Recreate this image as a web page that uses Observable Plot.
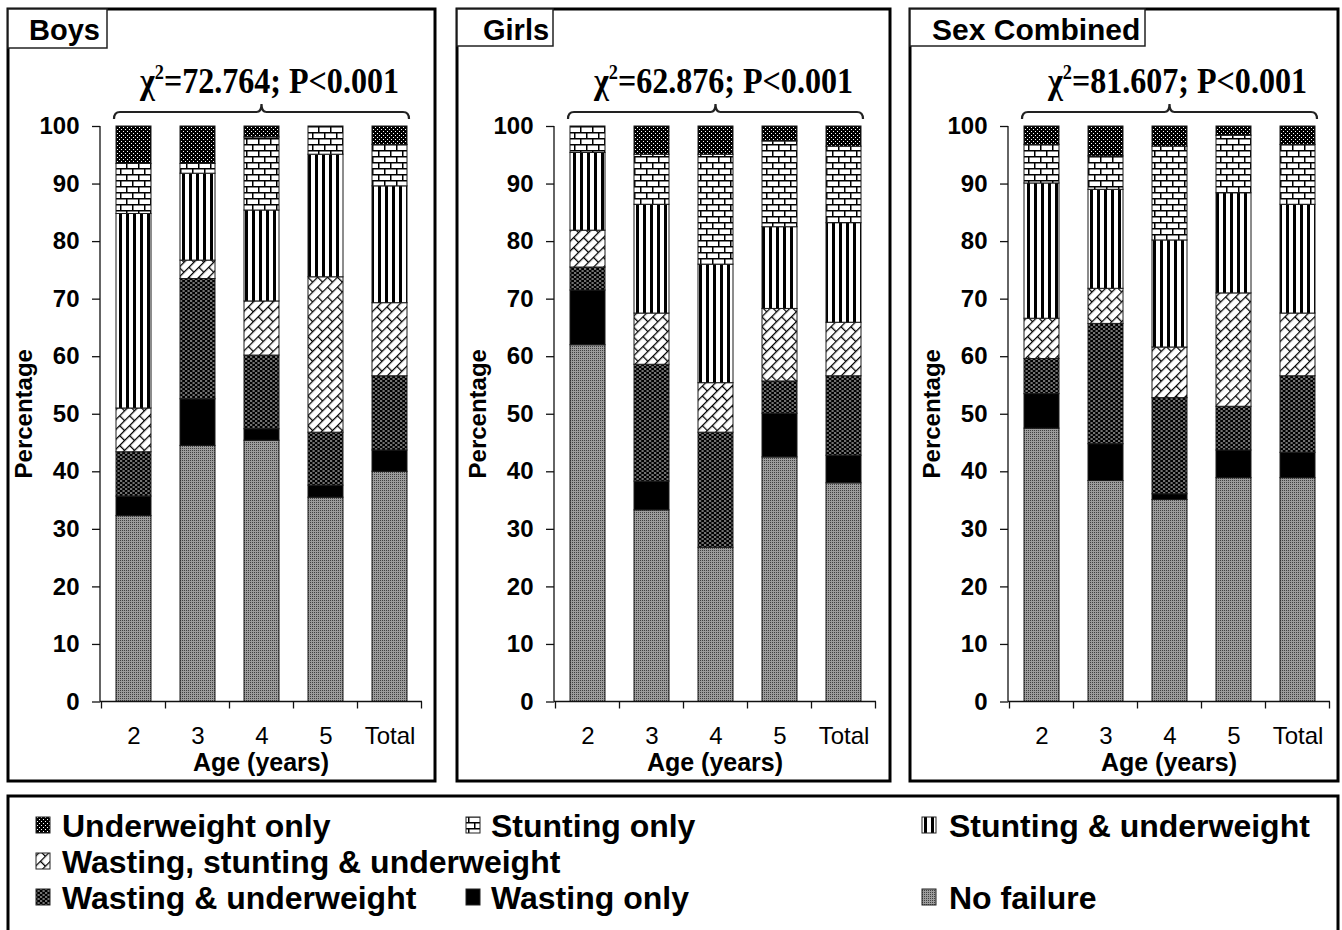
<!DOCTYPE html>
<html>
<head>
<meta charset="utf-8">
<script src="https://cdn.jsdelivr.net/npm/d3@7"></script>
<script src="https://cdn.jsdelivr.net/npm/@observablehq/plot@0.6"></script>
<style>
  html, body { margin: 0; padding: 0; background: #fff; }
  body { width: 1342px; height: 930px; overflow: hidden; position: relative; font-family: "Liberation Sans", Arial, sans-serif; }
  #stage { position: absolute; left: 0; top: 0; width: 1342px; height: 930px; }
  #stage > svg { position: absolute; top: 0; }
</style>
</head>
<body>
<svg width="0" height="0" style="position:absolute">
  <defs>
    <pattern id="pNF" patternUnits="userSpaceOnUse" width="2" height="2">
      <rect width="2" height="2" fill="#9c9c9c"/>
      <rect width="1" height="1" fill="#404040"/>
    </pattern>
    <pattern id="pW" patternUnits="userSpaceOnUse" width="4" height="4">
      <rect width="4" height="4" fill="#000"/>
    </pattern>
    <pattern id="pWU" patternUnits="userSpaceOnUse" width="5" height="4">
      <rect width="5" height="4" fill="#000"/>
      <rect x="0" y="0.5" width="2.2" height="1" fill="#e2e2e2"/>
      <rect x="2.5" y="2.5" width="2.2" height="1" fill="#e2e2e2"/>
    </pattern>
    <pattern id="pWSU" patternUnits="userSpaceOnUse" width="14" height="14" patternTransform="rotate(-45)">
      <rect width="14" height="14" fill="#fff"/>
      <path d="M0 0.6H14M0 7.6H14M0.6 0V7M7.6 7V14" stroke="#000" stroke-width="1.3" fill="none"/>
    </pattern>
    <pattern id="pSU" patternUnits="userSpaceOnUse" width="7" height="7">
      <rect width="7" height="7" fill="#fff"/>
      <rect x="0" width="3" height="7" fill="#000"/>
    </pattern>
    <pattern id="pS" patternUnits="userSpaceOnUse" width="12" height="12">
      <rect width="12" height="12" fill="#fff"/>
      <rect y="0" width="12" height="1.5" fill="#000"/>
      <rect y="6" width="12" height="1.5" fill="#000"/>
      <rect x="0" y="0" width="1.5" height="6" fill="#000"/>
      <rect x="6" y="6" width="1.5" height="6" fill="#000"/>
    </pattern>
    <pattern id="pU" patternUnits="userSpaceOnUse" width="4" height="4">
      <rect width="4" height="4" fill="#000"/>
      <rect x="1" y="1" width="1" height="1" fill="#fff"/>
      <rect x="3" y="3" width="1" height="1" fill="#fff"/>
    </pattern>
  </defs>
</svg>
<div id="stage"></div>
<script>
// ---------------- data ----------------
const categories = ["2", "3", "4", "5", "Total"];
// stacking order, bottom to top
const groups = [
  "No failure",
  "Wasting only",
  "Wasting & underweight",
  "Wasting, stunting & underweight",
  "Stunting & underweight",
  "Stunting only",
  "Underweight only"
];
// rows follow `groups`, columns follow `categories` (percent)
const boysValues = [
  [32.3, 44.5, 45.4, 35.5, 40.0],
  [3.4, 8.1, 2.0, 2.1, 3.7],
  [7.7, 20.9, 12.8, 9.2, 12.9],
  [7.6, 3.2, 9.4, 27.0, 12.7],
  [33.8, 15.1, 15.8, 21.3, 20.3],
  [8.7, 1.7, 12.7, 4.9, 7.2],
  [6.5, 6.5, 1.9, 0.0, 3.2]
];
const girlsValues = [
  [62.0, 33.3, 26.8, 42.5, 38.0],
  [9.5, 5.0, 0.0, 7.6, 4.8],
  [4.0, 20.3, 20.0, 5.6, 13.8],
  [6.4, 8.9, 8.6, 12.6, 9.3],
  [13.5, 18.9, 20.6, 14.2, 17.3],
  [4.6, 8.7, 19.1, 14.9, 13.3],
  [0.0, 4.9, 4.9, 2.6, 3.5]
];
const combinedValues = [
  [47.5, 38.4, 35.1, 38.9, 38.9],
  [6.0, 6.4, 1.0, 4.8, 4.4],
  [6.1, 20.9, 16.7, 7.6, 13.3],
  [7.0, 6.1, 8.8, 19.7, 10.9],
  [23.5, 17.2, 18.6, 17.4, 18.9],
  [6.7, 5.8, 16.3, 10.0, 10.4],
  [3.2, 5.2, 3.5, 1.6, 3.2]
];
const panelTitles = ["Boys", "Girls", "Sex Combined"];
const chiValues = ["72.764", "62.876", "81.607"];
const pText = "P<0.001";
const yTicks = [0, 10, 20, 30, 40, 50, 60, 70, 80, 90, 100];
const yLabel = "Percentage";
const xLabel = "Age (years)";
// legend rows (left to right)
const legendRows = [
  ["Underweight only", "Stunting only", "Stunting & underweight"],
  ["Wasting, stunting & underweight"],
  ["Wasting & underweight", "Wasting only", "No failure"]
];

// ---------------- styles / layout ----------------
const patternOf = {
  "No failure": "url(#pNF)",
  "Wasting only": "url(#pW)",
  "Wasting & underweight": "url(#pWU)",
  "Wasting, stunting & underweight": "url(#pWSU)",
  "Stunting & underweight": "url(#pSU)",
  "Stunting only": "url(#pS)",
  "Underweight only": "url(#pU)"
};
const layout = {
  plotLeft: [0, 454, 908],
  frames: [[8, 435], [457, 890], [910, 1338]],
  frameTop: 9, frameBottom: 781,
  tags: [[8, 107, 48, 29, 29], [457, 553, 46, 483, 29], [910, 1145, 46, 932, 30]],
  legendTop: 796,
  legendCols: [[36, 62], [466, 491], [922, 949]],
  legendCenter: [825, 861, 897]
};

const stage = document.getElementById("stage");

function toRows(values) {
  const rows = [];
  groups.forEach((g, gi) => categories.forEach((c, ci) => {
    const v = values[gi][ci];
    if (v > 0) rows.push({category: c, group: g, value: v});
  }));
  return rows;
}

function decor(chi) {
  return (index, scales, values, dims) => {
    const {x, y} = scales;
    const bw = x.bandwidth();
    const left = dims.marginLeft, right = dims.width - dims.marginRight;
    const y0 = y(0), y100 = y(100);
    const step = x(categories[1]) - x(categories[0]);
    const g = d3.create("svg:g");
    // axis lines
    g.append("line").attr("x1", left).attr("x2", left).attr("y1", y100).attr("y2", y0)
      .attr("stroke", "#111").attr("stroke-width", 1.3);
    g.append("line").attr("x1", left).attr("x2", right).attr("y1", y0).attr("y2", y0)
      .attr("stroke", "#111").attr("stroke-width", 1.3);
    // category boundary ticks
    const bounds = categories.map(c => x(c) - (step - bw) / 2);
    bounds.push(x(categories[categories.length - 1]) + bw + (step - bw) / 2);
    for (const b of bounds) {
      g.append("line").attr("x1", b).attr("x2", b).attr("y1", y0).attr("y2", y0 + 7)
        .attr("stroke", "#111").attr("stroke-width", 1.3);
    }
    // brace
    const bx0 = x(categories[0]) - 2;
    const bx1 = x(categories[categories.length - 1]) + bw + 2;
    const mid = (bx0 + bx1) / 2;
    const by = y100 - 14;
    g.append("path")
      .attr("d", `M${bx0},${by + 7} Q${bx0},${by} ${bx0 + 6},${by} L${mid - 5},${by} Q${mid},${by} ${mid},${by - 8} Q${mid},${by} ${mid + 5},${by} L${bx1 - 6},${by} Q${bx1},${by} ${bx1},${by + 7}`)
      .attr("fill", "none").attr("stroke", "#222").attr("stroke-width", 2.2);
    // chi-square text
    const t = g.append("text")
      .attr("x", mid + 8).attr("y", y100 - 33)
      .attr("text-anchor", "middle")
      .attr("font-family", "'Liberation Serif', 'Times New Roman', serif")
      .attr("font-weight", "bold").attr("font-size", 35)
      .attr("textLength", 259).attr("lengthAdjust", "spacingAndGlyphs")
      .attr("fill", "#000");
    t.append("tspan").text("χ");
    t.append("tspan").attr("dy", -14).attr("font-size", 20).text("2");
    t.append("tspan").attr("dy", 14).text(`=${chi}; ${pText}`);
    // axis labels
    g.append("text")
      .attr("transform", `translate(32,${(y0 + y100) / 2}) rotate(-90)`)
      .attr("text-anchor", "middle").attr("font-weight", "bold").attr("font-size", 24)
      .attr("fill", "#000").text(yLabel);
    g.append("text")
      .attr("x", (left + right) / 2).attr("y", y0 + 69.5)
      .attr("text-anchor", "middle").attr("font-weight", "bold").attr("font-size", 25)
      .attr("fill", "#000").text(xLabel);
    return g.node();
  };
}

const panelValues = [boysValues, girlsValues, combinedValues];
panelValues.forEach((vals, i) => {
  const chart = Plot.plot({
    width: 440,
    height: 790,
    marginLeft: 100,
    marginRight: 18,
    marginTop: 126,
    marginBottom: 88.5,
    style: {fontFamily: "'Liberation Sans', Arial, sans-serif", fontSize: "24px", color: "#000", background: "transparent", overflow: "visible"},
    x: {domain: categories, paddingInner: 0.455, paddingOuter: 0.2275, label: null},
    y: {domain: [0, 100], label: null},
    color: {type: "ordinal", domain: groups, range: groups.map(g => patternOf[g])},
    marks: [
      Plot.barY(toRows(vals), Plot.stackY({
        x: "category", y: "value", fill: "group", order: groups,
        stroke: "#1a1a1a", strokeWidth: 1
      })),
      Plot.axisY({ticks: yTicks, tickSize: 8, tickPadding: 13, fontWeight: "bold", fontSize: 24, label: null, stroke: "#111", strokeWidth: 1.3}),
      Plot.axisX({tickSize: 0, tickPadding: 25, fontSize: 24, label: null}),
      decor(chiValues[i])
    ]
  });
  chart.style.left = layout.plotLeft[i] + "px";
  stage.appendChild(chart);
});

// ---------------- frames, titles and legend ----------------
const overlay = d3.create("svg")
  .attr("width", 1342).attr("height", 930)
  .style("left", "0px").style("pointer-events", "none")
  .attr("font-family", "'Liberation Sans', Arial, sans-serif");

layout.frames.forEach(([x1, x2]) => {
  overlay.append("rect").attr("x", x1).attr("y", layout.frameTop)
    .attr("width", x2 - x1).attr("height", layout.frameBottom - layout.frameTop)
    .attr("fill", "none").attr("stroke", "#000").attr("stroke-width", 3);
});
layout.tags.forEach(([x1, x2, yb, tx, fs], i) => {
  overlay.append("rect").attr("x", x1).attr("y", layout.frameTop)
    .attr("width", x2 - x1).attr("height", yb - layout.frameTop)
    .attr("fill", "#fff").attr("stroke", "#222").attr("stroke-width", 1.5);
  overlay.append("text").attr("x", tx).attr("y", 40)
    .attr("font-weight", "bold").attr("font-size", fs).attr("fill", "#000")
    .text(panelTitles[i]);
});
overlay.append("path")
  .attr("d", `M8,940 V${layout.legendTop} H1338 V940`)
  .attr("fill", "none").attr("stroke", "#000").attr("stroke-width", 3);

legendRows.forEach((row, r) => {
  const cy = layout.legendCenter[r];
  row.forEach((name, c) => {
    const [sx, tx] = layout.legendCols[c];
    overlay.append("rect").attr("x", sx).attr("y", cy - 8)
      .attr("width", 14).attr("height", 16)
      .attr("fill", patternOf[name]).attr("stroke", "#222").attr("stroke-width", 1);
    overlay.append("text").attr("x", tx).attr("y", cy + 11.5)
      .attr("font-weight", "bold").attr("font-size", 32).attr("fill", "#000")
      .text(name);
  });
});
stage.appendChild(overlay.node());
</script>
</body>
</html>
